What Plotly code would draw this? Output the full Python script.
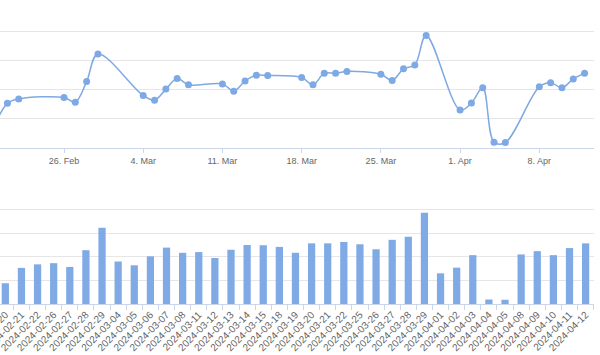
import plotly.graph_objects as go
from plotly.subplots import make_subplots

# ---- data ----
dates = ["2024-02-20", "2024-02-21", "2024-02-22", "2024-02-26", "2024-02-27", "2024-02-28",
         "2024-02-29", "2024-03-04", "2024-03-05", "2024-03-06", "2024-03-07", "2024-03-08",
         "2024-03-11", "2024-03-12", "2024-03-13", "2024-03-14", "2024-03-15", "2024-03-18",
         "2024-03-19", "2024-03-20", "2024-03-21", "2024-03-22", "2024-03-25", "2024-03-26",
         "2024-03-27", "2024-03-28", "2024-03-29", "2024-04-01", "2024-04-02", "2024-04-03",
         "2024-04-04", "2024-04-05", "2024-04-08", "2024-04-09", "2024-04-10", "2024-04-11",
         "2024-04-12"]
values = [8.8, 15.3, 16.8, 17.3, 15.7, 22.8, 32.3, 18.0, 16.4, 20.2, 23.9, 21.7,
          22.0, 19.5, 23.0, 25.0, 24.9, 24.2, 21.7, 25.7, 25.7, 26.3, 25.3, 23.2,
          27.2, 28.5, 38.7, 13.0, 15.4, 20.7, 1.9, 1.8, 21.0, 22.4, 20.7, 23.7, 25.7]

LINE = "#7ea9e4"
BAR = "#80aae6"
GRID = "#e6e6e6"
AXIS = "#ccd6eb"
TXT = "#666666"

fig = make_subplots(rows=2, cols=1)

fig.add_trace(go.Scatter(
    x=dates, y=values, mode="lines+markers",
    line=dict(color=LINE, width=1.5, shape="spline", smoothing=1.0),
    marker=dict(color=LINE, size=7),
    showlegend=False, hoverinfo="x+y", cliponaxis=True), row=1, col=1)

fig.add_trace(go.Bar(
    x=dates, y=values, marker=dict(color=BAR, line=dict(width=0)),
    width=0.45, showlegend=False), row=2, col=1)

H = 355
fig.update_layout(
    width=600, height=H,
    margin=dict(l=0, r=6, t=0, b=0, autoexpand=False),
    paper_bgcolor="white", plot_bgcolor="white",
    font=dict(family="'Liberation Sans', Arial, sans-serif", size=11, color=TXT),
    xaxis=dict(
        type="date",
        range=["2024-02-20 08:17", "2024-04-12 20:00"],
        tick0="2024-02-26", dtick=7 * 24 * 3600 * 1000,
        tickformat="%-d. %b",
        showgrid=False, showline=True, linecolor=AXIS, linewidth=1,
        ticks="outside", ticklen=4, tickcolor=AXIS,
        tickfont=dict(size=9, color=TXT),
        domain=[0, 1], zeroline=False, automargin=False,
    ),
    yaxis=dict(
        range=[0, 50], dtick=10, showticklabels=False,
        showgrid=True, gridcolor=GRID, gridwidth=1, zeroline=False,
        domain=[1 - 147.7 / H, 1 - 2.7 / H], automargin=False,
    ),
    xaxis2=dict(
        type="category",
        range=[-0.33, 36.52],
        tickangle=-45,
        ticks="outside", tickson="boundaries", ticklen=5, tickcolor=AXIS,
        showline=True, linecolor=AXIS, linewidth=1,
        showgrid=False, tickfont=dict(size=10, color=TXT),
        domain=[0, 1], automargin=False,
    ),
    yaxis2=dict(
        range=[0, 50], dtick=10, showticklabels=False,
        showgrid=True, gridcolor=GRID, gridwidth=1, zeroline=False,
        domain=[1 - 304 / H, 1 - 186 / H], automargin=False,
    ),
    bargap=0.55,
)

fig.write_html("out.html", config={"displayModeBar": False},
               post_script="document.body.style.margin='0';document.body.style.overflow='hidden';")
